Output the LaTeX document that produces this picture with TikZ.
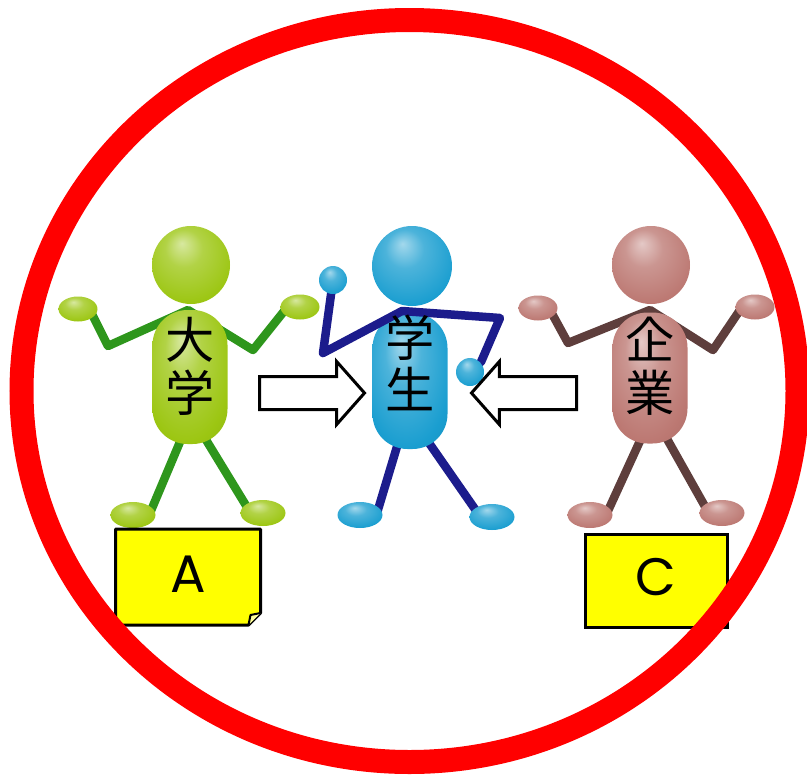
\documentclass[tikz,border=0pt]{standalone}
\usepackage{fontspec}
\newfontfamily\cjk{Noto Sans CJK JP}
\newfontfamily\tagfont{Poppins}
\usepackage{tikz}
\usetikzlibrary{shapes.geometric,shapes.arrows}

\definecolor{unibody}{HTML}{9CC612}
\definecolor{unilimb}{HTML}{2E961C}
\definecolor{stubody}{HTML}{1A9ED0}
\definecolor{stulimb}{HTML}{1C1C8C}
\definecolor{combody}{HTML}{BC7872}
\definecolor{comlimb}{HTML}{5E3E3C}
\definecolor{tagyellow}{HTML}{FFFF00}
\definecolor{ringred}{HTML}{FF0000}

% one pixel of the drawing
\newcommand{\pxl}{0.03cm}

% soft ball shading, coloured by figcol
\colorlet{figcol}{gray}
\pgfdeclareradialshading[figcol]{figball}{\pgfqpoint{-6bp}{14bp}}{%
  color(0bp)=(figcol!40!white); color(12bp)=(figcol!78!white);
  color(30bp)=(figcol); color(44bp)=(figcol!88!black); color(50bp)=(figcol!78!black)}

\tikzset{
  figcolour/.code={\colorlet{figcol}{#1}},
  part/.style={figcolour=#1, shading=figball, draw=none, inner sep=0pt},
  head/.style={part=#1, circle, minimum size=78*\pxl},
  body/.style={part=#1, rectangle, rounded corners=35*\pxl, minimum width=75*\pxl, minimum height=134*\pxl},
  hand/.style={part=#1, ellipse, minimum width=39*\pxl, minimum height=25*\pxl},
  foot/.style={part=#1, ellipse, minimum width=45*\pxl, minimum height=26*\pxl},
  knob/.style={part=#1, circle, minimum size=28*\pxl},
  limb/.style={draw=#1, line width=8.5*\pxl, line cap=round, line join=round},
  sign/.style={font=\cjk\fontsize{42}{45}\selectfont, align=center, inner sep=0pt},
  tag/.style={draw=black, fill=tagyellow, line width=3*\pxl, minimum width=142*\pxl, minimum height=93*\pxl,
    inner sep=0pt, font=\tagfont\fontsize{45}{45}\selectfont},
  blockarrow/.style={single arrow, draw=black, fill=white, line width=3*\pxl, minimum height=105*\pxl,
    minimum width=60*\pxl, inner xsep=0pt, inner ysep=15*\pxl, single arrow head extend=15*\pxl,
    single arrow tip angle=97, anchor=tail},
  ring/.style={draw=ringred, line width=24*\pxl}
}

\begin{document}
\begin{tikzpicture}[x=\pxl, y=-\pxl]
  \useasboundingbox (0,0) rectangle (807,776);

  % university
  \draw[limb=unilimb] (90,310) -- (108,346) -- (188,310) -- (253,350) -- (285,310);
  \draw[limb=unilimb] (185,430) -- (150,513);
  \draw[limb=unilimb] (200,430) -- (250,512);
  \node[hand=unibody] (unihandl) at (78,309) {};
  \node[hand=unibody] (unihandr) at (300,307) {};
  \node[foot=unibody] (unifootl) at (133,515) {};
  \node[foot=unibody] (unifootr) at (263,513) {};
  \node[body=unibody] (uni) at (190,377) {};
  \node[head=unibody] (unihead) at (191,265) {};
  \node[sign] (unitext) at (190,366) {大\\学};

  % student
  \draw[limb=stulimb] (402,430) -- (377,513);
  \draw[limb=stulimb] (420,430) -- (477,512);
  \node[foot=stubody] (stufootl) at (360,515) {};
  \node[foot=stubody] (stufootr) at (492,517) {};
  \node[body=stubody, minimum height=136*\pxl] (stu) at (410,381) {};
  \draw[limb=stulimb] (333,280) -- (323,353) -- (402,311) -- (500,318) -- (481,362);
  \node[knob=stubody] (stuknobl) at (333,280) {};
  \node[knob=stubody] (stuknobr) at (470,372) {};
  \node[head=stubody, minimum size=80*\pxl] (stuhead) at (412,266) {};
  \node[sign] (stutext) at (410,363) {学\\生};

  % company
  \draw[limb=comlimb] (550,310) -- (568,343) -- (650,310) -- (713,350) -- (740,310);
  \draw[limb=comlimb] (645,430) -- (607,513);
  \draw[limb=comlimb] (662,430) -- (707,510);
  \node[hand=combody] (comhandl) at (538,308) {};
  \node[hand=combody] (comhandr) at (755,307) {};
  \node[foot=combody] (comfootl) at (590,515) {};
  \node[foot=combody] (comfootr) at (722,513) {};
  \node[body=combody, minimum height=131*\pxl] (com) at (650,378) {};
  \node[head=combody] (comhead) at (651,265) {};
  \node[sign] (comtext) at (650,366) {企\\業};

  % arrows into the student
  \node[blockarrow] (unitostu) at (258,393) {};
  \node[blockarrow, shape border rotate=180] (comtostu) at (578,393) {};

  % name tags, A with a folded corner
  \node[tag, draw=none, fill=none] (tagA) at (188,577) {};
  \filldraw[draw=black, fill=tagyellow, line width=3*\pxl, line join=round]
    (tagA.north west) -- (tagA.north east) -- ([yshift=12*\pxl]tagA.south east)
    -- ([xshift=-12*\pxl]tagA.south east) -- (tagA.south west) -- cycle;
  \filldraw[draw=black, fill=tagyellow!40!white, line width=2*\pxl, line join=round]
    ([xshift=-12*\pxl]tagA.south east) -- ([xshift=-10*\pxl, yshift=10*\pxl]tagA.south east)
    -- ([yshift=12*\pxl]tagA.south east);
  \node[tag, draw=none, fill=none] (tagAtext) at (188,574) {A};
  \node[tag] (tagC) at (656,581) {};
  \node[tag, draw=none, fill=none] (tagCtext) at (656,577) {C};

  % red ring
  \draw[ring] (409.5,391) ellipse (388 and 371);
\end{tikzpicture}
\end{document}
